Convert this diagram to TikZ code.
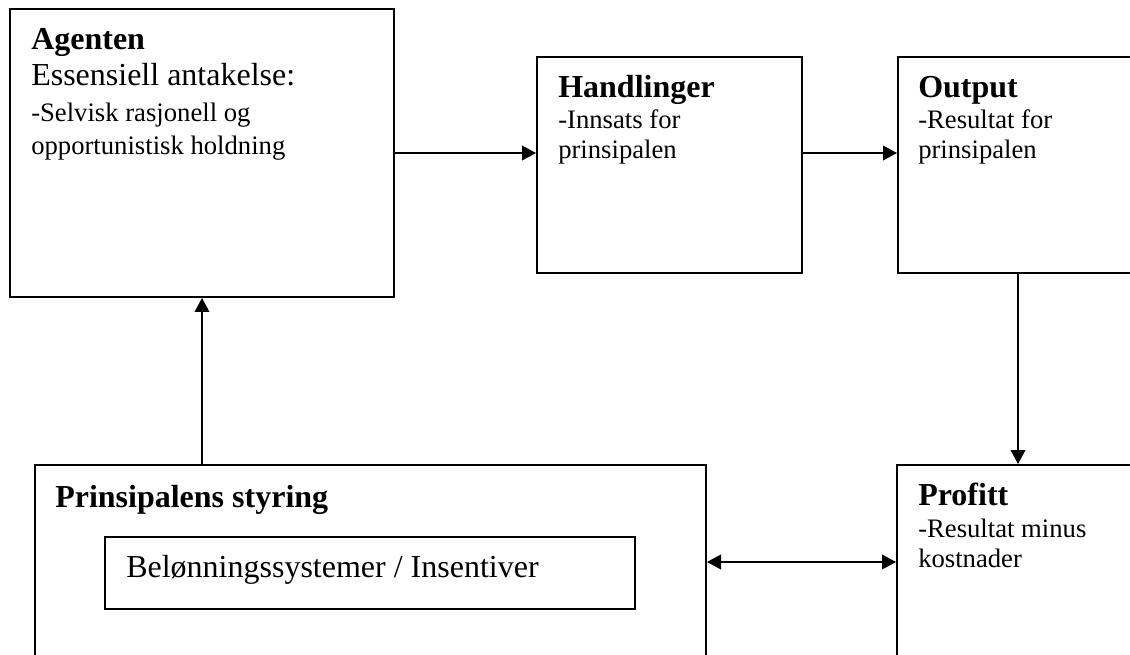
\documentclass[tikz,border=0pt]{standalone}
\usepackage{fontspec}
\setmainfont{Liberation Serif}
\usetikzlibrary{arrows.meta,fit}
\begin{document}
\begin{tikzpicture}[x=0.75pt,y=-0.75pt,
  box/.style={draw,line width=1.5pt,inner sep=0pt},
  innerbox/.style={draw,line width=1.2pt,inner sep=0pt},
  arr/.style={line width=1.2pt,-{Triangle[length=10.5pt,width=11pt]}},
  darr/.style={line width=1.2pt,{Triangle[length=10.5pt,width=11pt]}-{Triangle[length=10.5pt,width=11pt]}},
  txt/.style={anchor=base west,inner sep=0pt},
  head/.style={txt,font=\fontsize{24}{28}\selectfont\bfseries},
  big/.style={txt,font=\fontsize{24}{28}\selectfont},
  body/.style={txt,font=\fontsize{20}{24}\selectfont}]
\useasboundingbox (0,0) rectangle (1130,655);
\fill[white] (0,0) rectangle (1130,655);
\clip (0,0) rectangle (1130,655);
% boxes
\node[box,fit={(10,9) (394,297)}] (agent) {};
\node[box,fit={(537,57) (802,273)}] (hand) {};
\node[box,fit={(898,57) (1180,273)}] (out) {};
\node[box,fit={(35,465) (706,720)}] (prin) {};
\node[innerbox,fit={(105,537) (635,609)}] (belon) {};
\node[box,fit={(897,465) (1180,720)}] (prof) {};
% texts
\node[head] (t1) at (31,50) {Agenten};
\node[big]  (t2) at (31,86) {Essensiell antakelse:};
\node[body] (t3) at (31,122) {-Selvisk rasjonell og};
\node[body] (t4) at (31,155) {opportunistisk holdning};
\node[head] (h1) at (558,98) {Handlinger};
\node[body] (h2) at (558,129) {-Innsats for};
\node[body] (h3) at (558,159) {prinsipalen};
\node[head] (o1) at (918,98) {Output};
\node[body] (o2) at (918,129) {-Resultat for};
\node[body] (o3) at (918,159) {prinsipalen};
\node[head] (p1) at (55,507) {Prinsipalens styring};
\node[big]  (b1) at (126,577) {Belønningssystemer / Insentiver};
\node[head] (f1) at (918,505) {Profitt};
\node[body] (f2) at (918,537) {-Resultat minus};
\node[body] (f3) at (918,567) {kostnader};
% connector guides
\coordinate (upx) at (202,380);
\coordinate (downx) at (1018,380);
\coordinate (midy) at (800,562);
% connectors
\draw[arr] (agent.east) -- (agent.east -| hand.west);
\draw[arr] (agent.east -| hand.east) -- (agent.east -| out.west);
\draw[arr] (upx |- prin.north) -- (upx |- agent.south);
\draw[arr] (downx |- out.south) -- (downx |- prof.north);
\draw[darr] (midy -| prin.east) -- (midy -| prof.west);
\end{tikzpicture}
\end{document}
